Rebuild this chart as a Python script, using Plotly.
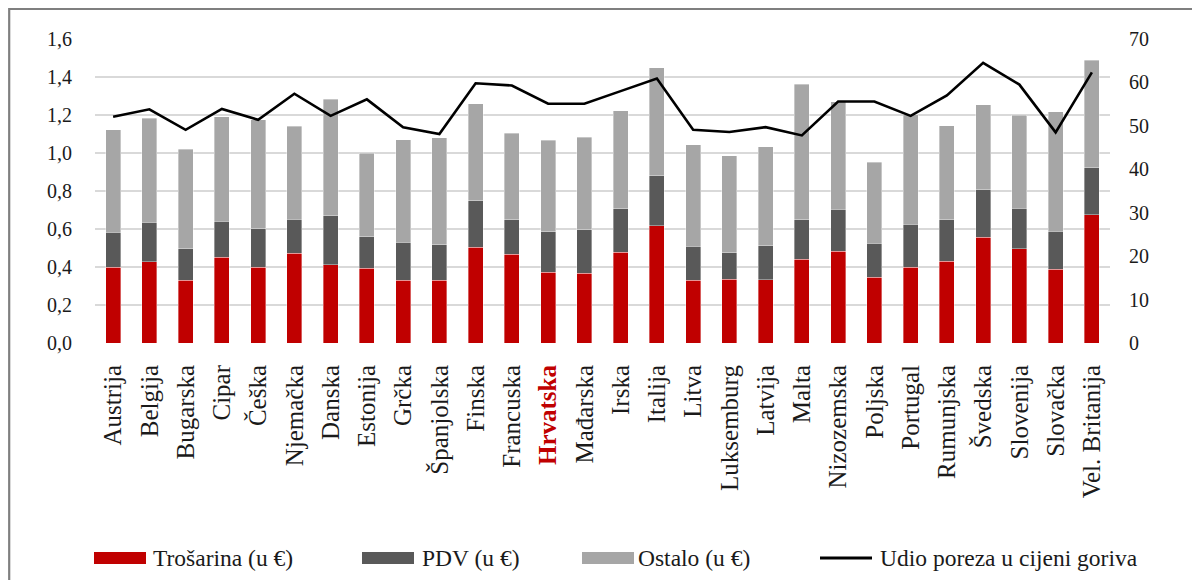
import plotly.graph_objects as go

countries = ["Austrija", "Belgija", "Bugarska", "Cipar", "Češka", "Njemačka", "Danska",
             "Estonija", "Grčka", "Španjolska", "Finska", "Francuska", "Hrvatska", "Mađarska",
             "Irska", "Italija", "Litva", "Luksemburg", "Latvija", "Malta", "Nizozemska",
             "Poljska", "Portugal", "Rumunjska", "Švedska", "Slovenija", "Slovačka", "Vel. Britanija"]

trosarina = [0.398, 0.428, 0.330, 0.451, 0.398, 0.472, 0.412, 0.393, 0.330, 0.330,
             0.503, 0.466, 0.372, 0.366, 0.477, 0.617, 0.330, 0.335, 0.332, 0.442,
             0.482, 0.347, 0.400, 0.430, 0.556, 0.495, 0.388, 0.674]
pdv = [0.184, 0.207, 0.166, 0.189, 0.204, 0.180, 0.258, 0.166, 0.200, 0.187,
       0.246, 0.183, 0.214, 0.229, 0.230, 0.262, 0.180, 0.140, 0.180, 0.207,
       0.221, 0.179, 0.224, 0.219, 0.251, 0.215, 0.200, 0.249]
ostalo = [0.541, 0.549, 0.523, 0.551, 0.572, 0.488, 0.614, 0.441, 0.540, 0.564,
          0.510, 0.454, 0.482, 0.487, 0.516, 0.570, 0.534, 0.511, 0.521, 0.712,
          0.567, 0.425, 0.578, 0.495, 0.447, 0.488, 0.630, 0.565]
udio = [52.1, 53.8, 49.1, 53.9, 51.4, 57.4, 52.3, 56.1, 49.7, 48.1,
        59.8, 59.3, 55.1, 55.1, 58.0, 60.9, 49.1, 48.6, 49.7, 47.8,
        55.6, 55.6, 52.3, 57.0, 64.5, 59.5, 48.5, 62.3]

series_names = ["Trošarina (u €)", "PDV (u €)", "Ostalo (u €)", "Udio poreza u cijeni goriva"]
series_colors = ["#C00000", "#595959", "#A6A6A6", "#000000"]
highlight = "Hrvatska"

left_ticks = [0, 0.2, 0.4, 0.6, 0.8, 1.0, 1.2, 1.4, 1.6]
right_ticks = [0, 10, 20, 30, 40, 50, 60, 70]

OFF = 8  # page body margin
W, H = 1192, 572
ML, MT = 95 - OFF, 39 - OFF
MR = W - (1110 - OFF)
MB = H - (343 - OFF)
PW, PH = W - ML - MR, H - MT - MB

def px(x):
    return (x - OFF - ML) / PW

def py(y):
    return (H - MB - (y - OFF)) / PH

FONT = "Liberation Serif"

fig = go.Figure()
for vals, name, col in zip([trosarina, pdv, ostalo], series_names[:3], series_colors[:3]):
    fig.add_trace(go.Bar(x=countries, y=vals, name=name, marker_color=col,
                         marker_line=dict(width=0.8, color="rgba(255,255,255,0.45)"),
                         yaxis="y", showlegend=False))
fig.add_trace(go.Scatter(x=countries, y=udio, name=series_names[3], mode="lines",
                         line=dict(color=series_colors[3], width=2.6), yaxis="y2",
                         showlegend=False))

ticktext = [f"<b><span style='color:#C00000'>{c}</span></b>" if c == highlight else c
            for c in countries]

fig.update_layout(
    width=W, height=H, autosize=False,
    margin=dict(l=ML, r=MR, t=MT, b=MB),
    paper_bgcolor="white", plot_bgcolor="white",
    barmode="stack", bargap=0.59,
    separators=", ",
    font=dict(family=FONT, color="#1a1a1a"),
    xaxis=dict(tickmode="array", tickvals=countries, ticktext=ticktext,
               tickangle=-90, tickfont=dict(size=25, family=FONT, color="#1a1a1a"),
               showgrid=False, showline=False, ticks="", automargin=False,
               ticklabelstandoff=16),
    yaxis=dict(range=[0, 1.6], tickvals=left_ticks, tickformat=".1f",
               showgrid=True, gridcolor="#D9D9D9", gridwidth=1.6,
               zeroline=False, showline=False, ticks="",
               tickfont=dict(size=20, family=FONT, color="#1a1a1a"),
               automargin=False, ticklabelstandoff=22),
    yaxis2=dict(range=[0, 70], tickvals=right_ticks, overlaying="y", side="right",
                showgrid=False, zeroline=False, showline=False, ticks="",
                tickfont=dict(size=20, family=FONT, color="#1a1a1a"),
                automargin=False, ticklabelstandoff=18),
    showlegend=False,
)

# outer frame (partially visible, as in the reference)
fig.add_shape(type="rect", xref="paper", yref="paper",
              x0=px(OFF + 1.2), x1=px(1215), y0=py(9), y1=py(600),
              line=dict(color="#7F7F7F", width=2.2), layer="below")

# custom legend
swatch_x = [94, 362, 582, 820]
text_x = [151, 420, 636, 878]
ly = 558
for i, name in enumerate(series_names):
    if i < 3:
        fig.add_shape(type="rect", xref="paper", yref="paper",
                      x0=px(swatch_x[i]), x1=px(swatch_x[i] + 52),
                      y0=py(ly - 6), y1=py(ly + 6),
                      fillcolor=series_colors[i], line=dict(width=0))
    else:
        fig.add_shape(type="line", xref="paper", yref="paper",
                      x0=px(swatch_x[i]), x1=px(swatch_x[i] + 52),
                      y0=py(ly), y1=py(ly),
                      line=dict(color=series_colors[i], width=3))
    fig.add_annotation(xref="paper", yref="paper", x=px(text_x[i]), y=py(ly),
                       text=name, showarrow=False, xanchor="left", yanchor="middle",
                       font=dict(size=23.5, family=FONT, color="#1a1a1a"))

fig.write_html("out.html")
